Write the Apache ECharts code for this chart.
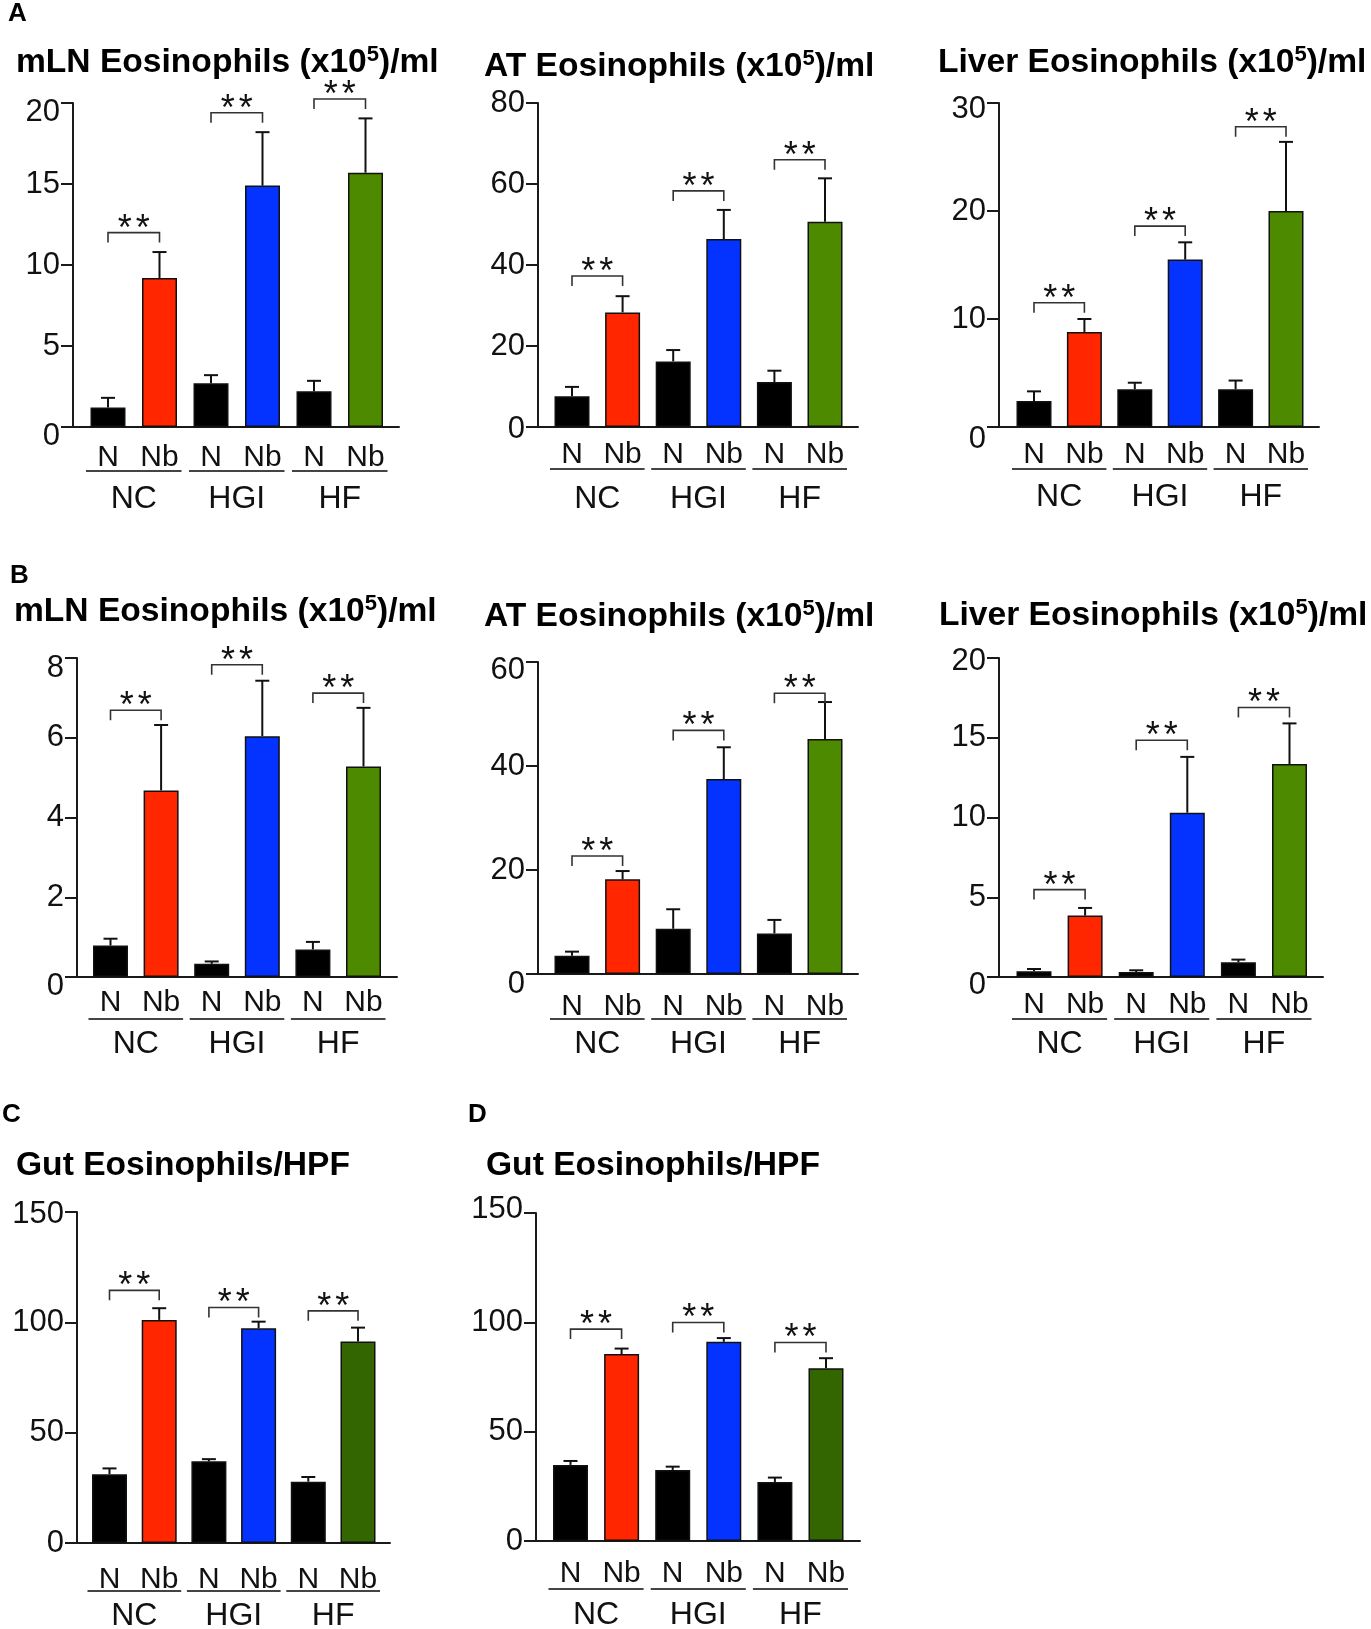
<!DOCTYPE html>
<html>
<head>
<meta charset="utf-8">
<script src="https://cdn.jsdelivr.net/npm/echarts/dist/echarts.min.js"></script>
<style>
  html, body { margin: 0; padding: 0; background: #fff; }
  #fig { width: 1371px; height: 1629px; }
</style>
</head>
<body>
<div id="fig"></div>
<script>
var FONT = '"Liberation Sans", Arial, Helvetica, sans-serif';

// categories
var barLabels = ['N', 'Nb', 'N', 'Nb', 'N', 'Nb'];
var groupNames = ['NC', 'HGI', 'HF'];
var barPos = [0, 1, 2, 3, 4, 5];
var pairs = [[0, 1], [2, 3], [4, 5]];

// A - mLN, AT, Liver (mean, SEM, bracket level)
var mlnA = [1.2, 9.2, 2.7, 14.9, 2.2, 15.7];
var mlnAErr = [0.6, 1.6, 0.5, 3.3, 0.65, 3.35];
var mlnASig = [12.0, 19.4, 20.25];
var atA = [7.6, 28.3, 16.2, 46.4, 11.1, 50.7];
var atAErr = [2.3, 4.0, 2.8, 7.2, 2.8, 10.7];
var atASig = [37.3, 58.3, 66.0];
var liverA = [2.4, 8.8, 3.5, 15.5, 3.5, 20.0];
var liverAErr = [0.9, 1.2, 0.6, 1.6, 0.8, 6.4];
var liverASig = [11.5, 18.6, 27.8];

// B
var mlnB = [0.79, 4.68, 0.33, 6.04, 0.69, 5.28];
var mlnBErr = [0.17, 1.64, 0.06, 1.39, 0.19, 1.47];
var mlnBSig = [6.69, 7.83, 7.12];
var atB = [3.5, 18.2, 8.7, 37.5, 7.8, 45.2];
var atBErr = [0.8, 1.6, 3.75, 6.1, 2.6, 7.1];
var atBSig = [22.7, 46.85, 54.0];
var liverB = [0.36, 3.85, 0.31, 10.3, 0.92, 13.35];
var liverBErr = [0.14, 0.48, 0.11, 3.5, 0.17, 2.55];
var liverBSig = [5.48, 14.84, 16.9];

// C, D - gut
var gutC = [31.2, 101.1, 37.0, 97.3, 27.8, 91.3];
var gutCErr = [2.6, 5.3, 1.0, 3.0, 2.1, 6.3];
var gutCSig = [114.5, 106.7, 105.2];
var gutD = [34.8, 85.5, 32.5, 91.1, 27.0, 79.0];
var gutDErr = [1.8, 2.5, 1.5, 1.7, 2.0, 4.6];
var gutDSig = [96.9, 99.9, 90.8];

var nbColorsAB = ['#FF2600', '#0433FF', '#4E8A00'];
var nbColorsCD = ['#FF2600', '#0433FF', '#336600'];

function eosTitle(tissue) {
    return '{t|' + tissue + ' Eosinophils (x10}{s|5}{t|)/ml}';
}

var panels = [
    {title: eosTitle('mLN'), mean: mlnA, err: mlnAErr, sig: mlnASig, max: 20, step: 5, nb: nbColorsAB},
    {title: eosTitle('AT'), mean: atA, err: atAErr, sig: atASig, max: 80, step: 20, nb: nbColorsAB},
    {title: eosTitle('Liver'), mean: liverA, err: liverAErr, sig: liverASig, max: 30, step: 10, nb: nbColorsAB},
    {title: eosTitle('mLN'), mean: mlnB, err: mlnBErr, sig: mlnBSig, max: 8, step: 2, nb: nbColorsAB},
    {title: eosTitle('AT'), mean: atB, err: atBErr, sig: atBSig, max: 60, step: 20, nb: nbColorsAB},
    {title: eosTitle('Liver'), mean: liverB, err: liverBErr, sig: liverBSig, max: 20, step: 5, nb: nbColorsAB},
    {title: '{t|Gut Eosinophils/HPF}', mean: gutC, err: gutCErr, sig: gutCSig, max: 150, step: 50, nb: nbColorsCD},
    {title: '{t|Gut Eosinophils/HPF}', mean: gutD, err: gutDErr, sig: gutDSig, max: 150, step: 50, nb: nbColorsCD}
];

// layout: yAxis x, axis end x, first bar centre, last bar centre, top y, zero y,
// title x, title baseline, shift of max label, shift of min label,
// N/Nb baseline, underline, group label baseline (below zero)
var boxes = [
    [73, 399, 108, 365.5, 103, 427, 16, 74, 9, 9, 41, 44, 83],
    [538, 858, 572, 825, 103, 427, 484, 78, 0, 2, 38, 42, 83],
    [999, 1319, 1034, 1286, 103, 427, 938, 74, 6, 12, 38, 42, 81],
    [77, 397, 110.5, 363.5, 658, 977, 14, 623, 10, 9, 36, 42, 78],
    [538, 858, 572, 825, 662, 974, 484, 628, 8, 10, 43, 45, 81],
    [999, 1323, 1034, 1289.5, 658, 977, 939, 627, 3, 8, 38, 42, 78],
    [77, 390, 109.5, 358, 1212, 1543, 16, 1177, 2, 0, 47, 48, 84],
    [536, 860, 570.5, 826, 1213, 1541, 486, 1177, -4, 0, 43, 48, 85]
];

var letters = [['A', 8, 23], ['B', 10, 585], ['C', 2, 1124], ['D', 468, 1124]];

var AXIS = {color: '#1a1a1a', width: 2};

function pad(s) {
    return s >= 0 ? [2 * s, 0, 0, 0] : [0, 0, -2 * s, 0];
}

function makeErr(b) {
    return function (params, api) {
        var x = api.value(0), m = api.value(1), s = api.value(2);
        var p0 = api.coord([x, m]);
        var p1 = api.coord([x, m + s]);
        var z = api.coord([x, 0]);
        return {
            type: 'group',
            children: [
                {type: 'line', shape: {x1: p0[0], y1: p0[1], x2: p1[0], y2: p1[1]}, style: {stroke: '#111', lineWidth: 2}},
                {type: 'line', shape: {x1: p1[0] - 7, y1: p1[1], x2: p1[0] + 7, y2: p1[1]}, style: {stroke: '#111', lineWidth: 2}},
                {type: 'text', style: {text: barLabels[params.dataIndex], x: z[0], y: z[1] + b[10] - 10.4,
                    align: 'center', verticalAlign: 'middle', fontSize: 30, fontFamily: FONT, fill: '#111'}}
            ]
        };
    };
}

function star(x, y) {
    return {type: 'text', style: {text: '*', x: x, y: y, align: 'center', verticalAlign: 'middle',
        fontSize: 36, fontFamily: FONT, fill: '#111'}};
}

function makeGroup(b) {
    return function (params, api) {
        var xa = api.value(0), xb = api.value(1), lv = api.value(2);
        var a = api.coord([xa, lv]);
        var c = api.coord([xb, lv]);
        var za = api.coord([xa, 0]);
        var zb = api.coord([xb, 0]);
        var mid = (a[0] + c[0]) / 2;
        return {
            type: 'group',
            children: [
                {type: 'polyline', shape: {points: [[a[0], a[1] + 10], [a[0], a[1]], [c[0], c[1]], [c[0], c[1] + 10]]},
                    style: {stroke: '#333', lineWidth: 1.6, fill: null}},
                star(mid - 9, a[1] - 3),
                star(mid + 9, a[1] - 3),
                {type: 'line', shape: {x1: za[0] - 22, y1: za[1] + b[11], x2: zb[0] + 22, y2: zb[1] + b[11]},
                    style: {stroke: '#444', lineWidth: 2}},
                {type: 'text', style: {text: groupNames[params.dataIndex], x: (za[0] + zb[0]) / 2, y: za[1] + b[12] - 11,
                    align: 'center', verticalAlign: 'middle', fontSize: 32, fontFamily: FONT, fill: '#111'}}
            ]
        };
    };
}

var titleRich = {
    t: {fontSize: 33.6, fontWeight: 'bold', fontFamily: FONT, color: '#000', lineHeight: 36},
    s: {fontSize: 22, fontWeight: 'bold', fontFamily: FONT, color: '#000', lineHeight: 24, verticalAlign: 'top'}
};

var grid = [], xAxis = [], yAxis = [], series = [], title = [];

letters.forEach(function (l) {
    title.push({
        text: l[0], left: l[1], top: l[2] - 22, padding: 0,
        textStyle: {fontSize: 26, fontWeight: 'bold', fontFamily: FONT, color: '#000', lineHeight: 26}
    });
});

panels.forEach(function (p, i) {
    var b = boxes[i];
    var pitch = (b[3] - b[2]) / 5;
    var labelStyle = {fontSize: 31, fontFamily: FONT, color: '#111'};
    title.push({text: p.title, left: b[6], top: b[7] - 29.7, padding: 0, textStyle: {rich: titleRich}});
    grid.push({left: b[0], top: b[4], width: b[1] - b[0], height: b[5] - b[4]});
    xAxis.push({
        type: 'value', gridIndex: i,
        min: -(b[2] - b[0]) / pitch,
        max: 5 + (b[1] - b[3]) / pitch,
        axisLine: {show: true, onZero: false, lineStyle: AXIS},
        axisTick: {show: false},
        axisLabel: {show: false},
        splitLine: {show: false}
    });
    yAxis.push({
        type: 'value', gridIndex: i, min: 0, max: p.max, interval: p.step,
        axisLine: {show: true, onZero: false, lineStyle: AXIS},
        axisTick: {show: true, length: 12, lineStyle: AXIS},
        axisLabel: {
            fontSize: 31, fontFamily: FONT, color: '#111', margin: 13,
            formatter: function (v) {
                if (v === p.max && b[8] !== 0) return '{hi|' + v + '}';
                if (v === 0 && b[9] !== 0) return '{lo|' + v + '}';
                return v;
            },
            rich: {
                hi: Object.assign({padding: pad(b[8])}, labelStyle),
                lo: Object.assign({padding: pad(b[9])}, labelStyle)
            }
        },
        splitLine: {show: false}
    });
    series.push({
        type: 'bar', xAxisIndex: i, yAxisIndex: i, barWidth: 35, silent: true,
        itemStyle: {borderColor: '#111', borderWidth: 1.5},
        data: barPos.map(function (x, k) {
            return {value: [x, p.mean[k]], itemStyle: {color: k % 2 === 0 ? '#000' : p.nb[k >> 1]}};
        })
    });
    series.push({
        type: 'custom', xAxisIndex: i, yAxisIndex: i, clip: false, silent: true,
        renderItem: makeErr(b),
        data: barPos.map(function (x, k) { return [x, p.mean[k], p.err[k]]; })
    });
    series.push({
        type: 'custom', xAxisIndex: i, yAxisIndex: i, clip: false, silent: true,
        renderItem: makeGroup(b),
        data: pairs.map(function (q, g) { return [q[0], q[1], p.sig[g], g]; })
    });
});

var myChart = echarts.init(document.getElementById('fig'));
var option = {
    animation: false,
    backgroundColor: '#fff',
    title: title,
    grid: grid,
    xAxis: xAxis,
    yAxis: yAxis,
    series: series
};
myChart.setOption(option);
</script>
</body>
</html>
